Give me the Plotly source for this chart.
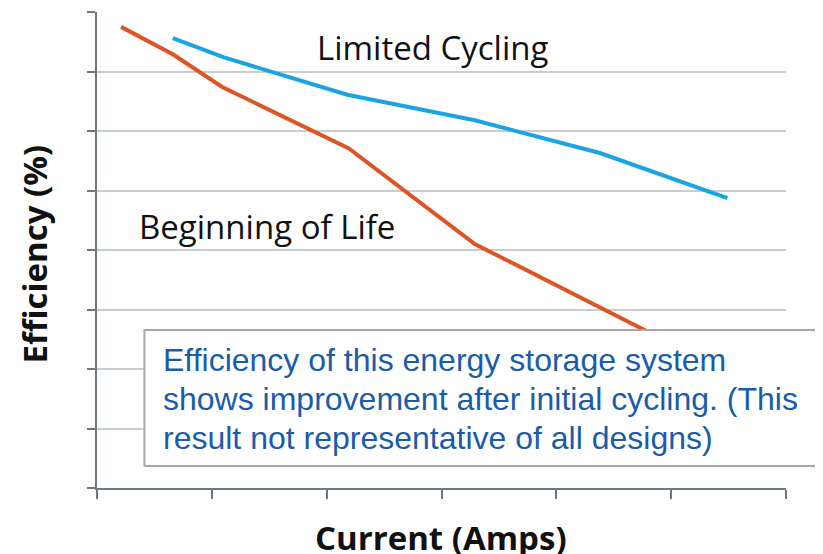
import plotly.graph_objects as go

# Data (arbitrary units; axes carry no tick labels)
bol_x = [0.21, 0.66, 1.09, 2.19, 3.29, 5.51]
bol_y = [7.75, 7.29, 6.74, 5.71, 4.10, 1.93]
lc_x = [0.66, 1.10, 2.18, 3.29, 4.38, 5.49]
lc_y = [7.56, 7.24, 6.61, 6.18, 5.63, 4.87]
x_ticks = [0, 1, 2, 3, 4, 5, 6]
y_ticks = [0, 1, 2, 3, 4, 5, 6, 7, 8]

note_lines = [
    "Efficiency of this energy storage system",
    "shows improvement after initial cycling. (This",
    "result not representative of all designs)",
]

OFF = 8  # browser body margin
W, H = 823 - OFF, 554 - OFF
L, R, T, B = 96.5 - OFF, 786.5 - OFF, 12 - OFF, 488 - OFF


def xp(px):
    return (px - OFF - L) / (R - L)


def yp(py):
    return (B - (py - OFF)) / (B - T)


AX = "#6E767E"
GRID = "#C9CDD1"

fig = go.Figure()
fig.add_trace(go.Scatter(x=bol_x, y=bol_y, mode="lines",
                         line=dict(color="#DD5526", width=4), name="Beginning of Life",
                         hoverinfo="skip"))
fig.add_trace(go.Scatter(x=lc_x, y=lc_y, mode="lines",
                         line=dict(color="#1CA3E3", width=4), name="Limited Cycling",
                         hoverinfo="skip"))

fig.update_layout(
    width=W, height=H,
    margin=dict(l=L, r=W - R, t=T, b=H - B, pad=0),
    paper_bgcolor="white", plot_bgcolor="white",
    showlegend=False,
    xaxis=dict(range=[0, 6], tickvals=x_ticks, showticklabels=False, showgrid=False,
               zeroline=False, showline=True, linecolor=AX, linewidth=2,
               ticks="outside", ticklen=9, tickcolor=AX, tickwidth=2, fixedrange=True),
    yaxis=dict(range=[0, 8], tickvals=y_ticks, showticklabels=False, showgrid=True,
               gridcolor=GRID, gridwidth=1.5, zeroline=False, showline=True,
               linecolor=AX, linewidth=2, ticks="outside", ticklen=8, tickcolor=AX,
               tickwidth=2, fixedrange=True),
)

# note box
fig.add_shape(type="rect", xref="paper", yref="paper",
              x0=xp(144), x1=xp(900), y0=yp(466), y1=yp(330),
              fillcolor="white", line=dict(color="#A8A8A8", width=2), layer="above")

ann = []
for i, line in enumerate(note_lines):
    ann.append(dict(x=xp(161), y=yp(360 + 39 * i), xref="paper", yref="paper",
                    xanchor="left", yanchor="middle", showarrow=False, text=line,
                    font=dict(family="Liberation Sans, Arial", size=32, color="#1B5CA8")))

ann.append(dict(x=xp(315), y=yp(48), xref="paper", yref="paper", xanchor="left",
                yanchor="middle", showarrow=False, text="Limited Cycling",
                font=dict(family="Open Sans", size=33, color="#111111")))
ann.append(dict(x=xp(137), y=yp(227), xref="paper", yref="paper", xanchor="left",
                yanchor="middle", showarrow=False, text="Beginning of Life",
                font=dict(family="Open Sans", size=33, color="#111111")))
ann.append(dict(x=xp(441), y=yp(537), xref="paper", yref="paper", xanchor="center",
                yanchor="middle", showarrow=False, text="<b>Current (Amps)</b>",
                font=dict(family="Open Sans", size=33, color="#111111")))
ann.append(dict(x=xp(33), y=yp(254), xref="paper", yref="paper", xanchor="center",
                yanchor="middle", showarrow=False, text="<b>Efficiency (%)</b>",
                textangle=-90,
                font=dict(family="Open Sans", size=33, color="#111111")))
fig.update_layout(annotations=ann)

fig.write_html("out.html")
